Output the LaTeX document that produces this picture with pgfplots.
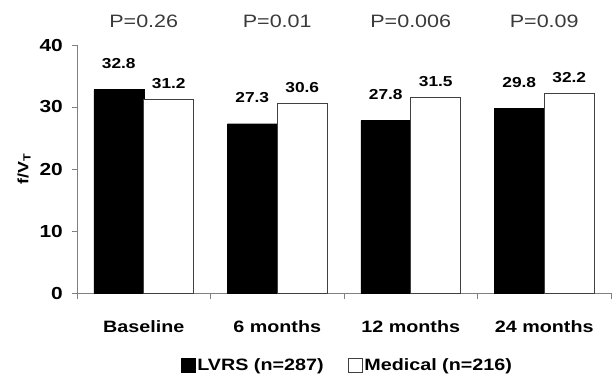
\documentclass[border=0pt]{standalone}
\usepackage{fontspec}
\setmainfont{Liberation Sans}[FakeStretch=1.2]
\usepackage{pgfplots}
\pgfplotsset{compat=1.18}
\definecolor{axgray}{HTML}{808080}
\definecolor{ptext}{HTML}{3A3A3A}
\begin{document}
\begin{tikzpicture}
\useasboundingbox (0,0) rectangle (613bp,380bp);
\begin{axis}[
  at={(77bp,87bp)}, anchor=south west,
  scale only axis, width=534bp, height=248bp,
  ybar=0pt, bar width=50bp,
  xmin=-0.5, xmax=3.5, ymin=0, ymax=40,
  enlargelimits=false, clip=false,
  axis x line=bottom, axis y line=left,
  axis line style={-, draw=axgray, line width=1bp},
  every tick/.style={draw=axgray, line width=1bp},
  tick align=outside,
  xtick={0,1,2,3},
  xticklabels={Baseline,6 months,12 months,24 months},
  major x tick style={draw=none},
  extra x ticks={-0.5,0.5,1.5,2.5,3.5},
  extra x tick labels={},
  extra x tick style={major tick length=6bp, major x tick style={draw=axgray, line width=1bp}},
  ytick={0,10,20,30,40},
  yticklabels={0,10,20,30,40},
  major tick length=5bp,
  /pgf/number format/assume math mode=true,
  ticklabel style={font=\fontsize{17.5}{20}\selectfont\bfseries, text=black},
  xticklabel style={font=\fontsize{16.5}{20}\selectfont\bfseries, anchor=base, yshift=-34bp},
  yticklabel style={anchor=east, inner sep=0pt, xshift=-9bp},
  ylabel={\textbf{f/V\textsubscript{T}}},
  every axis y label/.style={at={(axis description cs:-0.0993,0.5)}, rotate=90, anchor=center, font=\fontsize{15}{18}\selectfont},
  nodes near coords={\pgfmathprintnumber[fixed, fixed zerofill, precision=1]{\pgfplotspointmeta}},
  nodes near coords style={font=\fontsize{14.5}{17}\selectfont\bfseries, anchor=center},
  legend columns=2,
  legend style={at={(0.506,-0.29)}, anchor=center, draw=none, fill=none,
    font=\fontsize{16.5}{20}\selectfont\bfseries,
    /tikz/every even column/.append style={column sep=22bp}},
  legend image code/.code={\draw[#1, line width=0.8bp] (0bp,-7bp) rectangle (14bp,7bp);},
]
\addplot[fill=black, draw=black, every node near coord/.append style={yshift=26bp}]
  coordinates {(0,32.8) (1,27.3) (2,27.8) (3,29.8)};
\addlegendentry{LVRS (n=287)}
\addplot[fill=white, draw=black!75, line width=0.8bp, every node near coord/.append style={yshift=16bp}]
  coordinates {(0,31.2) (1,30.6) (2,31.5) (3,32.2)};
\addlegendentry{Medical (n=216)}
\node[font=\fontsize{18}{21}\selectfont, text=ptext] at (axis cs:0,43.8) {P=0.26};
\node[font=\fontsize{18}{21}\selectfont, text=ptext] at (axis cs:1,43.8) {P=0.01};
\node[font=\fontsize{18}{21}\selectfont, text=ptext] at (axis cs:2,43.8) {P=0.006};
\node[font=\fontsize{18}{21}\selectfont, text=ptext] at (axis cs:3,43.8) {P=0.09};
\end{axis}
\end{tikzpicture}
\end{document}
